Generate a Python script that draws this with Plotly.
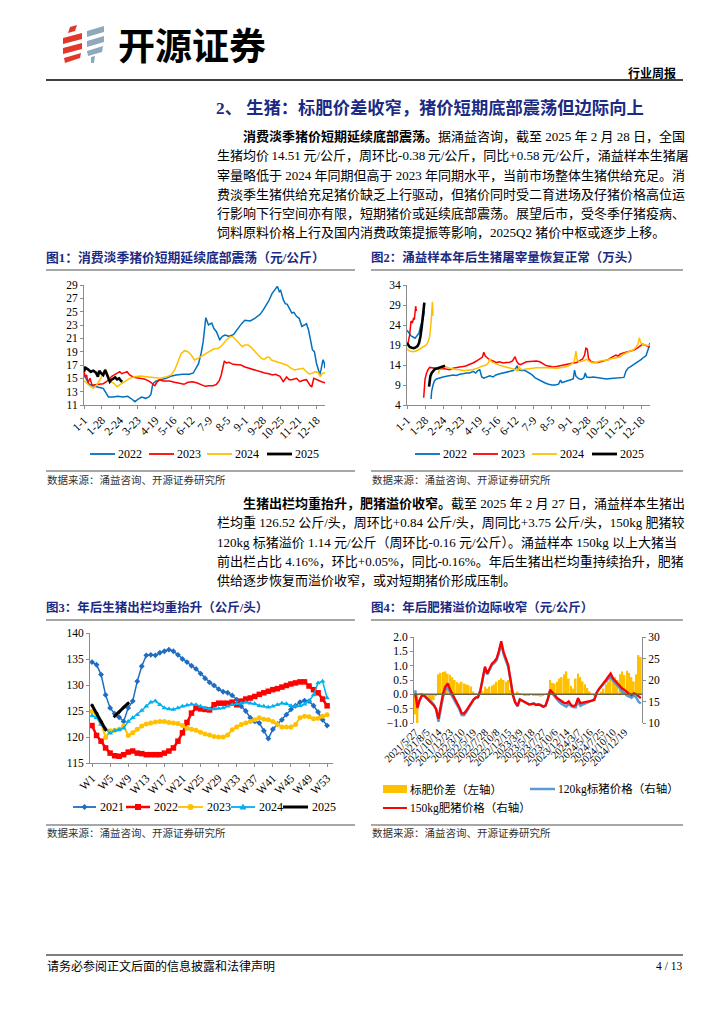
import plotly.graph_objects as go

W, H = 724, 1024


def PX(x):
    return x / W


def PY(y):
    return 1 - y / H


SERIF = "Liberation Serif, Noto Sans CJK SC"
CJK = "Noto Sans CJK SC"
NAVY = "#1B2A84"
AXC = "#8C8C8C"

# ---------------- Chart 1: national hog price (yuan/kg), (day-of-year, value) ----------------
DAY_TICKS = [1, 28, 55, 82, 109, 136, 163, 190, 217, 244, 271, 298, 325, 352]
DAY_LABELS = ["1-1", "1-28", "2-24", "3-23", "4-19", "5-16", "6-12", "7-9", "8-5",
              "9-1", "9-28", "10-25", "11-21", "12-18"]

PRICE_2022 = [(1, 15.5), (5, 14.8), (9, 14.1), (14, 13.9), (20, 13.8), (26, 13.6), (30, 13.5), (34, 12.9),
              (38, 12.2), (45, 12.2), (52, 12.3), (60, 12.2), (67, 12.3), (73, 11.9), (78, 11.5), (83, 11.9),
              (88, 12.2), (94, 12.0), (99, 12.2), (102, 12.6), (105, 14.2), (110, 14.6), (118, 14.8),
              (125, 15.0), (132, 15.3), (140, 15.5), (150, 15.6), (160, 15.6), (166, 15.8), (170, 16.4),
              (174, 17.2), (178, 18.8), (181, 20.5), (183, 22.3), (185, 24.1), (189, 23.0), (194, 23.3),
              (197, 22.5), (201, 22.0), (206, 20.8), (210, 21.3), (214, 21.5), (220, 21.3), (227, 21.6),
              (234, 22.6), (239, 23.2), (244, 23.7), (252, 23.6), (259, 24.0), (267, 24.6), (272, 25.3),
              (280, 26.6), (285, 27.7), (290, 28.5), (293, 28.8), (296, 28.0), (298, 28.2), (302, 26.8),
              (305, 26.2), (308, 26.1), (311, 25.5), (315, 24.8), (318, 24.9), (322, 24.3), (326, 24.0),
              (330, 22.8), (334, 23.0), (337, 23.2), (340, 22.3), (343, 20.8), (346, 19.3), (349, 19.0),
              (352, 17.3), (355, 16.3), (357, 15.5), (359, 16.3), (362, 17.8), (364, 17.3), (365, 16.5)]
PRICE_2023 = [(1, 16.0), (3, 15.2), (5, 15.5), (7, 14.3), (10, 15.0), (13, 14.0), (15, 14.0), (20, 14.1),
              (25, 14.2), (30, 14.2), (35, 14.5), (40, 15.0), (43, 15.3), (48, 15.6), (51, 15.8), (55, 16.0),
              (58, 15.7), (61, 15.8), (66, 16.0), (70, 15.5), (75, 15.2), (80, 15.1), (86, 15.0), (92, 14.9),
              (97, 14.7), (102, 14.4), (106, 14.0), (108, 13.9), (111, 14.4), (115, 14.8), (120, 14.6),
              (130, 14.6), (138, 14.4), (145, 14.3), (152, 14.1), (158, 14.4), (165, 14.5), (172, 14.3),
              (178, 14.0), (184, 13.8), (190, 13.9), (196, 13.9), (201, 14.1), (205, 14.6), (208, 15.4),
              (211, 16.8), (213, 17.6), (216, 17.3), (220, 17.4), (226, 17.1), (232, 17.1), (238, 17.0),
              (244, 16.7), (250, 16.5), (256, 16.3), (262, 16.2), (268, 16.0), (274, 15.8), (280, 15.7),
              (286, 15.5), (290, 15.6), (297, 15.3), (302, 14.5), (307, 15.2), (311, 14.8), (315, 14.8),
              (322, 15.0), (327, 14.5), (332, 14.7), (337, 14.8), (342, 14.0), (345, 13.7), (348, 15.0),
              (352, 14.8), (355, 14.7), (360, 14.5), (365, 14.35)]
PRICE_2024 = [(1, 14.6), (3, 14.5), (8, 14.0), (15, 13.5), (20, 14.0), (25, 14.75), (30, 15.75), (33, 16.4),
              (35, 16.0), (38, 15.25), (41, 14.5), (46, 14.25), (51, 13.75), (56, 14.1), (63, 14.5),
              (70, 15.0), (78, 15.25), (86, 15.35), (96, 15.25), (106, 15.15), (116, 15.0), (126, 15.25),
              (133, 15.5), (138, 16.25), (143, 17.5), (148, 18.75), (153, 19.15), (158, 19.0), (163, 18.5),
              (168, 17.75), (173, 18.0), (181, 18.5), (189, 19.0), (196, 19.35), (204, 19.5), (210, 20.0),
              (216, 20.75), (222, 21.25), (226, 21.25), (231, 20.75), (236, 20.25), (240, 19.75),
              (244, 20.0), (249, 20.0), (254, 19.6), (259, 19.0), (264, 18.5), (269, 18.0), (273, 17.85),
              (277, 18.15), (281, 18.15), (284, 17.75), (292, 17.5), (300, 17.25), (307, 17.0), (314, 16.5),
              (319, 16.25), (324, 16.35), (332, 16.5), (337, 16.0), (341, 15.65), (346, 15.75), (350, 16.0),
              (355, 15.85), (358, 15.25), (361, 15.75), (365, 15.85)]
PRICE_2025 = [(1, 16.0), (3, 16.6), (7, 16.35), (11, 16.0), (15, 16.15), (19, 15.85), (22, 15.25),
              (24, 16.15), (27, 15.75), (30, 15.5), (33, 16.25), (35, 15.75), (37, 15.25), (40, 14.5),
              (42, 14.75), (45, 15.0), (48, 15.15), (51, 14.85), (54, 15.0), (57, 14.6), (59, 14.5)]

# ---------------- Chart 2: sample slaughter volume (10k head) ----------------
SLAUGHTER_2022 = [(1, 22.7), (4, 22.0), (7, 21.3), (10, 21.0), (13, 20.7), (16, 21.3), (19, 22.0), (21, 23.5),
                  (23, 24.4), (25, 25.5), (27, 27.5), (28, None), (37, 5.5), (38, 7.5), (40, 9.0), (42, 10.0),
                  (45, 10.5), (50, 10.8), (55, 11.0), (60, 11.2), (65, 11.3), (70, 11.5), (75, 11.4),
                  (80, 11.7), (85, 11.8), (90, 12.0), (95, 12.0), (100, 12.4), (104, 12.0), (107, 12.6),
                  (110, 12.8), (113, 11.0), (116, 10.7), (120, 11.0), (125, 11.3), (130, 11.0), (134, 11.5),
                  (140, 11.8), (145, 12.0), (150, 12.3), (155, 12.5), (160, 12.6), (164, 13.2), (166, 13.8),
                  (168, 12.8), (172, 12.6), (178, 12.6), (183, 12.2), (188, 11.6), (193, 10.8), (198, 10.3),
                  (203, 9.8), (208, 9.5), (213, 9.2), (218, 9.0), (223, 9.0), (228, 9.2), (231, 10.2),
                  (233, 9.6), (237, 9.8), (242, 10.0), (247, 10.2), (250, 10.5), (252, 12.7), (254, 11.2),
                  (258, 10.6), (262, 10.4), (266, 10.8), (268, 12.0), (270, 11.0), (275, 10.9), (280, 11.0),
                  (287, 10.8), (294, 10.6), (300, 10.5), (306, 10.6), (312, 10.7), (318, 10.8), (323, 10.7),
                  (326, 10.9), (329, 12.5), (332, 13.2), (336, 13.6), (340, 14.0), (344, 14.4), (348, 15.0),
                  (352, 15.4), (356, 16.0), (359, 16.3), (362, 17.8), (365, 19.5)]
SLAUGHTER_2023 = [(1, 19.0), (3, 19.8), (5, 21.5), (7, 25.0), (9, 24.5), (11, 25.8), (12, 25.3), (13, 27.0),
                  (14, 28.7), (15, 27.5), (16, None), (26, 5.8), (27, 8.5), (28, 10.5), (30, 11.8), (32, 12.7),
                  (35, 13.4), (40, 13.3), (45, 13.2), (50, 13.0), (55, 13.1), (60, 12.9), (65, 12.8),
                  (70, 13.2), (75, 13.4), (80, 13.5), (85, 13.6), (90, 13.8), (95, 14.2), (100, 14.5),
                  (105, 15.0), (110, 15.5), (114, 16.0), (116, 17.2), (118, 16.3), (121, 15.8), (125, 15.3),
                  (130, 15.0), (135, 14.6), (140, 14.8), (145, 14.5), (150, 14.6), (155, 14.7), (159, 15.0),
                  (161, 15.6), (163, 16.1), (165, 15.0), (168, 14.3), (171, 14.1), (175, 14.5), (180, 14.8),
                  (185, 14.9), (190, 15.0), (195, 15.0), (200, 14.8), (205, 14.4), (210, 13.8), (215, 13.7),
                  (220, 13.5), (225, 13.6), (230, 13.8), (235, 14.0), (240, 14.2), (245, 14.4), (250, 14.5),
                  (255, 14.6), (260, 15.0), (264, 15.5), (267, 16.5), (269, 18.2), (271, 18.0), (273, 15.6),
                  (277, 14.8), (282, 14.6), (287, 14.6), (292, 14.9), (297, 15.1), (302, 15.3), (306, 15.8),
                  (310, 16.2), (314, 16.5), (317, 16.2), (320, 16.7), (325, 17.0), (330, 17.2), (335, 17.4),
                  (340, 17.7), (345, 18.1), (350, 18.6), (354, 19.2), (357, 19.0), (361, 18.7), (365, 18.5)]
SLAUGHTER_2024 = [(1, 18.0), (5, 17.5), (10, 17.3), (15, 17.5), (20, 18.0), (25, 18.5), (30, 19.0), (33, 20.0),
                  (35, 21.2), (37, 24.5), (38, 27.0), (39, 29.8), (40, 26.3), (41, None), (48, 11.8), (50, 13.0),
                  (55, 13.5), (60, 13.5), (65, 13.2), (70, 13.0), (75, 12.9), (80, 12.8), (85, 12.6),
                  (90, 12.6), (95, 12.7), (100, 12.9), (105, 13.1), (110, 13.5), (115, 13.8), (120, 14.0),
                  (123, 14.6), (125, 15.6), (127, 14.9), (130, 14.6), (135, 14.2), (140, 13.9), (145, 13.7),
                  (150, 13.5), (155, 13.3), (160, 13.1), (164, 12.8), (167, 12.5), (169, 13.6), (172, 12.8),
                  (176, 12.9), (180, 13.1), (185, 13.2), (190, 13.3), (195, 13.3), (200, 13.3), (205, 13.4),
                  (210, 13.4), (215, 13.3), (220, 13.2), (225, 13.2), (230, 13.3), (235, 13.5), (240, 13.6),
                  (245, 14.0), (250, 14.5), (252, 15.2), (254, 17.5), (256, 15.2), (260, 14.8), (265, 15.0),
                  (270, 15.4), (275, 14.8), (280, 14.5), (285, 14.7), (290, 15.0), (295, 15.1), (300, 15.2),
                  (305, 15.5), (310, 15.7), (315, 15.8), (320, 16.0), (325, 16.7), (330, 17.1), (335, 17.4),
                  (340, 17.8), (344, 18.4), (347, 19.3), (349, 20.8), (351, 19.6), (354, 19.2), (358, 19.0),
                  (362, 18.8), (365, 19.0)]
SLAUGHTER_2025 = [(1, 19.5), (3, 18.8), (5, 18.5), (8, 18.3), (11, 18.2), (14, 18.4), (17, 18.8), (19, 19.5),
                  (21, 21.0), (23, 23.5), (25, 26.5), (26, 28.5), (27, 29.6), (28, None), (34, 8.6), (35, 10.3),
                  (36, 11.2), (38, 12.0), (40, 12.5), (43, 13.0), (47, 13.2), (51, 13.4), (55, 13.7), (58, 13.8)]

# ---------------- Chart 3: average slaughter weight (kg/head), weeks W1..W53 ----------------
WEEKS = list(range(1, 54))
WEEK_TICKS = [1, 5, 9, 13, 17, 21, 25, 29, 33, 37, 41, 45, 49, 53]
WEEK_LABELS = ["W1", "W5", "W9", "W13", "W17", "W21", "W25", "W29", "W33", "W37", "W41", "W45", "W49", "W53"]
WEIGHT_2021 = [134.4, 133.9, 132.0, 128.1, 125.6, 124.5, 123.8, 123.0, 125.6, 126.9,
               130.7, 133.6, 135.7, 135.8, 135.7, 136.2, 136.5, 136.8, 136.5, 135.8,
               135.0, 134.4, 133.7, 133.1, 132.2, 131.3, 130.5, 129.9, 129.2, 128.7,
               128.5, 128.0, 127.2, 125.9, 125.0, 123.7, 123.0, 122.7, 121.2, 119.7,
               121.5, 122.5, 123.3, 124.3, 125.3, 126.0, 126.7, 127.0, 126.9, 126.0,
               124.8, 123.3, 122.2]
WEIGHT_2022 = [122.2, 120.3, 119.2, 117.9, 116.9, 116.4, 116.3, 116.6, 117.1, 117.3,
               116.9, 116.8, 116.6, 116.6, 116.6, 116.6, 116.9, 117.3, 117.9, 119.2,
               120.8, 122.8, 124.6, 125.6, 125.4, 125.3, 125.2, 126.2, 126.5, 126.5,
               126.5, 126.7, 126.2, 126.9, 127.3, 127.5, 127.8, 128.2, 128.5, 128.8,
               129.1, 129.3, 129.6, 129.9, 130.2, 130.4, 130.6, 130.6, 129.8, 129.1,
               128.5, 127.3, 126.0]
WEIGHT_2023 = [124.9, 124.3, 122.7, 119.9, 121.2, 121.3, 121.5, 122.1, 120.3, 120.8,
               121.5, 122.1, 122.5, 122.7, 122.9, 123.0, 123.0, 122.8, 122.7, 122.6,
               122.2, 121.7, 121.5, 121.3, 120.9, 120.6, 120.4, 120.1, 120.0, 120.0,
               120.4, 121.4, 121.9, 122.4, 122.7, 123.0, 123.3, 123.7, 123.4, 123.3,
               123.0, 122.4, 121.9, 121.9, 121.9, 122.4, 123.7, 124.0, 123.9, 123.5,
               123.6, 124.0, 124.3]
WEIGHT_2024 = [124.1, 123.7, 122.4, 121.6, 120.7, 121.2, 121.4, 121.7, 123.0, 123.7,
               124.3, 125.1, 125.9, 126.7, 126.9, 126.2, 125.6, 125.4, 125.3, 125.6,
               125.9, 126.1, 126.3, 126.2, 125.9, 125.6, 125.4, 125.4, 125.5, 125.6,
               125.9, 126.2, 126.4, 126.5, 126.7, 126.5, 126.4, 126.0, 125.9, 125.7,
               125.9, 126.2, 126.5, 126.4, 126.0, 125.9, 126.0, 126.3, 126.9, 128.1,
               130.4, 130.7, 127.5]
WEIGHT_2025 = [126.1, 124.6, 123.0, 121.4, None, 124.0, 124.8, 125.7, 126.5]

# ---------------- Chart 4: fat-hog premium, weekly since 2021/5/27 (every second week) ----------------
DATE_LABELS = ["2021/5/27", "2021/8/5", "2021/10/14", "2021/12/23", "2022/3/10", "2022/5/19",
               "2022/7/28", "2022/10/8", "2022/12/15", "2023/3/9", "2023/5/18", "2023/7/27",
               "2023/10/6", "2023/12/14", "2024/3/7", "2024/5/16", "2024/7/25", "2024/10/10",
               "2024/12/19"]
LABEL_WEEK = [0, 10, 20, 30, 40, 50, 60, 70, 80, 90, 100, 110, 120, 130, 140, 150, 160, 170, 180]
WEEK_IDX = list(range(0, 195, 2))
SPREAD = [-0.7, -1.0, 0.05, 0.05, 0.0, -0.15, -0.25, -0.3, -0.2, -0.05,
          0.7, 0.75, 0.78, 0.8, 0.72, 0.68, 0.6, 0.5, 0.43, 0.38,
          0.44, 0.38, 0.35, 0.32, 0.27, 0.1, 0.03, -0.02, 0.03, 0.12,
          0.27, 0.2, 0.27, 0.3, 0.35, 0.44, 0.5, 0.56, 0.5, 0.44,
          0.5, 0.15, 0.0, 0.05, 0.1, 0.03, -0.02, -0.03, -0.06, -0.05,
          -0.02, -0.05, -0.06, -0.03, -0.08, -0.05, -0.02, 0.05, 0.5, 0.4,
          0.38, 0.44, 0.55, 0.6, 0.7, 0.8, 0.55, 0.3, 0.2, 0.55,
          0.73, 0.6, 0.45, 0.35, 0.22, 0.1, 0.0, -0.06, -0.05, 0.0,
          0.1, 0.2, 0.35, 0.45, 0.65, 0.62, 0.6, 0.5, 0.7, 0.8,
          0.67, 0.82, 0.75, 0.6, 0.45, 0.7, 1.37, 1.3]
PRICE_150KG = [16.9, 13.5, 15.4, 16.5, 16.3, 15.8, 15.2, 14.6, 14.1, 13.2,
               11.0, 14.0, 16.9, 18.5, 19.2, 17.8, 16.8, 15.8, 14.6, 13.6,
               12.3, 12.2, 12.9, 13.8, 14.6, 15.4, 15.9, 16.0, 17.5, 20.5,
               23.1, 21.5, 22.5, 23.8, 24.3, 25.0, 26.8, 29.0, 26.5, 25.0,
               23.5, 20.0, 16.5, 14.8, 14.0, 15.5, 15.2, 15.0, 14.6, 14.3,
               14.4, 14.5, 14.2, 14.3, 14.1, 13.8, 14.0, 15.5, 17.7, 17.2,
               16.5, 15.8, 15.4, 15.0, 14.7, 14.6, 15.0, 14.2, 13.9, 14.2,
               15.8, 14.6, 14.7, 14.8, 14.9, 15.0, 15.2, 15.4, 17.0, 17.9,
               18.5, 19.3, 20.0, 20.8, 21.5, 20.4, 19.8, 19.3, 18.8, 18.0,
               17.7, 17.2, 16.8, 16.5, 16.9, 16.7, 16.3, 15.8]
PRICE_120KG = [17.6, 14.5, 15.35, 16.45, 16.3, 15.95, 15.45, 14.9, 14.3, 13.25,
               10.3, 13.25, 16.1, 17.7, 18.5, 17.1, 16.2, 15.3, 14.15, 13.2,
               11.85, 11.8, 12.55, 13.5, 14.35, 15.3, 15.85, 16.0, 17.45, 20.4,
               22.8, 21.3, 22.25, 23.5, 23.95, 24.55, 26.3, 28.45, 26.0, 24.55,
               23.0, 19.85, 16.5, 14.75, 13.9, 15.45, 15.2, 15.0, 14.65, 14.35,
               14.4, 14.55, 14.25, 14.35, 14.2, 13.85, 14.0, 15.45, 17.2, 16.8,
               16.1, 15.35, 14.85, 14.4, 14.0, 13.8, 14.45, 13.9, 13.7, 13.65,
               15.05, 14.0, 14.25, 14.45, 14.7, 14.9, 15.2, 15.45, 17.05, 17.9,
               18.4, 19.1, 19.65, 20.35, 20.85, 19.8, 19.2, 18.8, 18.1, 17.2,
               17.0, 16.4, 16.05, 15.9, 16.45, 16.0, 14.95, 14.5]

YEAR_COLORS = {"2021": "#1F6DC2", "2022": "#0070C0", "2023": "#FF0000", "2024": "#FFC000", "2025": "#000000"}
C3_COLORS = {"2021": "#1F6DC2", "2022": "#FF0000", "2023": "#FFC000", "2024": "#00B0F0", "2025": "#000000"}

fig = go.Figure()


def xs(pairs):
    return [p[0] for p in pairs]


def ys(pairs):
    return [p[1] for p in pairs]


# Chart 1 traces
for name, pairs in [("2022", PRICE_2022), ("2023", PRICE_2023), ("2024", PRICE_2024), ("2025", PRICE_2025)]:
    fig.add_trace(go.Scatter(x=xs(pairs), y=ys(pairs), mode="lines", name=name,
                             line=dict(color=YEAR_COLORS[name], width=2.6 if name == "2025" else 1.5),
                             xaxis="x", yaxis="y", showlegend=False, hoverinfo="skip"))
# Chart 2 traces
for name, pairs in [("2022", SLAUGHTER_2022), ("2023", SLAUGHTER_2023), ("2024", SLAUGHTER_2024),
                    ("2025", SLAUGHTER_2025)]:
    fig.add_trace(go.Scatter(x=xs(pairs), y=ys(pairs), mode="lines", name=name, connectgaps=False,
                             line=dict(color=YEAR_COLORS[name], width=2.6 if name == "2025" else 1.5),
                             xaxis="x2", yaxis="y2", showlegend=False, hoverinfo="skip"))
# Chart 3 traces
C3_STYLE = {"2021": ("diamond", 4.5, 1.5), "2022": ("square", 5.5, 2.5), "2023": ("circle", 5, 2),
            "2024": ("triangle-up", 5, 1.5), "2025": ("diamond", 3, 3)}
for name, vals in [("2021", WEIGHT_2021), ("2022", WEIGHT_2022), ("2023", WEIGHT_2023),
                   ("2024", WEIGHT_2024), ("2025", WEIGHT_2025)]:
    sym, msize, lw = C3_STYLE[name]
    fig.add_trace(go.Scatter(x=WEEKS[:len(vals)], y=vals, mode="lines+markers", name=name, connectgaps=False,
                             line=dict(color=C3_COLORS[name], width=lw),
                             marker=dict(symbol=sym, size=msize, color=C3_COLORS[name]),
                             xaxis="x3", yaxis="y3", showlegend=False, hoverinfo="skip"))
# Chart 4 traces
fig.add_trace(go.Bar(x=WEEK_IDX, y=SPREAD, width=1.5, name="标肥价差（左轴）",
                     marker=dict(color="#FFC000", line=dict(width=0)),
                     xaxis="x4", yaxis="y4", showlegend=False, hoverinfo="skip"))
fig.add_trace(go.Scatter(x=WEEK_IDX, y=PRICE_120KG, mode="lines", name="120kg标猪价格（右轴）",
                         line=dict(color="#5B9BD5", width=2.5),
                         xaxis="x4", yaxis="y5", showlegend=False, hoverinfo="skip"))
fig.add_trace(go.Scatter(x=WEEK_IDX, y=PRICE_150KG, mode="lines", name="150kg肥猪价格（右轴）",
                         line=dict(color="#FF0000", width=2.3),
                         xaxis="x4", yaxis="y5", showlegend=False, hoverinfo="skip"))

TICKFONT = dict(family=SERIF, size=11.5, color="black")


def yax(top, bot, rng, dtick, anchor, **kw):
    d = dict(domain=[PY(bot), PY(top)], range=rng, dtick=dtick, tick0=rng[0], anchor=anchor,
             showline=True, linecolor=AXC, linewidth=1, ticks="outside", ticklen=3, tickcolor=AXC,
             showgrid=False, zeroline=False, tickfont=TICKFONT, automargin=False, fixedrange=True)
    d.update(kw)
    return d


def xax(left, right, rng, tickvals, ticktext, anchor, **kw):
    d = dict(domain=[PX(left), PX(right)], range=rng, tickmode="array", tickvals=tickvals, ticktext=ticktext,
             tickangle=-45, anchor=anchor, showline=True, linecolor=AXC, linewidth=1, ticks="outside",
             ticklen=3, tickcolor=AXC, showgrid=False, zeroline=False, tickfont=TICKFONT,
             automargin=False, fixedrange=True)
    d.update(kw)
    return d


layout = dict(
    width=W, height=H, autosize=False, margin=dict(l=0, r=0, t=0, b=0, pad=0),
    paper_bgcolor="white", plot_bgcolor="rgba(0,0,0,0)", showlegend=False,
    xaxis=xax(84, 325, [1, 365], DAY_TICKS, DAY_LABELS, "y"),
    yaxis=yax(285, 405, [11, 29], 2, "x"),
    xaxis2=xax(407, 650, [1, 365], DAY_TICKS, DAY_LABELS, "y2"),
    yaxis2=yax(285, 405, [4, 34], 5, "x2"),
    xaxis3=xax(90, 333, [0.55, 54.3], WEEK_TICKS, WEEK_LABELS, "y3"),
    yaxis3=yax(633, 763, [115, 140], 5, "x3"),
    xaxis4=xax(414, 642, [-1, 195], LABEL_WEEK, DATE_LABELS, "y4", showline=False, ticks="",
               tickfont=dict(family=SERIF, size=10.5, color="black")),
    yaxis4=yax(637, 723, [-1, 2], 0.5, "x4", tickformat=".1f"),
    yaxis5=dict(overlaying="y4", side="right", anchor="x4", range=[10, 30], dtick=5, tick0=10,
                showline=True, linecolor=AXC, linewidth=1, ticks="outside", ticklen=3, tickcolor=AXC,
                showgrid=False, zeroline=False, tickfont=TICKFONT, automargin=False, fixedrange=True),
)

shapes = []
annotations = []


def hline(x0, x1, y, color, width):
    shapes.append(dict(type="line", xref="paper", yref="paper", x0=PX(x0), x1=PX(x1), y0=PY(y), y1=PY(y),
                       line=dict(color=color, width=width), layer="above"))


def poly(points, color):
    path = "M " + " L ".join(f"{PX(a):.5f},{PY(b):.5f}" for a, b in points) + " Z"
    shapes.append(dict(type="path", xref="paper", yref="paper", path=path, fillcolor=color,
                       line=dict(width=0), layer="above"))


def rect(x0, y0, x1, y1, color):
    shapes.append(dict(type="rect", xref="paper", yref="paper", x0=PX(x0), x1=PX(x1), y0=PY(y1), y1=PY(y0),
                       fillcolor=color, line=dict(width=0), layer="above"))


def circ(cx, cy, r, color):
    shapes.append(dict(type="circle", xref="paper", yref="paper", x0=PX(cx - r), x1=PX(cx + r),
                       y0=PY(cy + r), y1=PY(cy - r), fillcolor=color, line=dict(width=0), layer="above"))


def txt(x, y, s, size=13, color="black", anchor="left", family=SERIF):
    annotations.append(dict(x=PX(x), y=PY(y), xref="paper", yref="paper", text=s, showarrow=False,
                            xanchor=anchor, yanchor="middle", align="left", borderpad=0,
                            font=dict(size=size, color=color, family=family)))


# zero line of chart 4
shapes.append(dict(type="line", xref="x4 domain", yref="y4", x0=0, x1=1, y0=0, y1=0,
                   line=dict(color="#6E6446", width=1.5), layer="above"))

# ---- header ----
RED = "#E0392B"
BLUEGRAY = "#8EA8BC"
poly([(70, 27), (77, 25), (75, 31), (68, 33)], RED)
poly([(63, 38), (82, 33), (82, 39), (63, 44)], RED)
poly([(63, 48), (82, 43), (82, 49), (63, 54)], RED)
poly([(64, 58), (81, 53), (80, 58), (65, 63)], RED)
poly([(87, 31), (104, 26), (104, 32), (87, 37)], BLUEGRAY)
poly([(87, 41), (104, 36), (104, 42), (87, 47)], BLUEGRAY)
poly([(87, 51), (103, 46), (102, 52), (88, 56)], BLUEGRAY)
poly([(91, 57), (95, 56), (94, 63), (91, 63)], BLUEGRAY)
txt(117, 44, "<b>开源证券</b>", size=37, family=CJK)
txt(677, 72, "<b>行业周报</b>", size=12, anchor="right", family=CJK)
hline(46, 683, 80, "black", 1.5)

# ---- section title & paragraph 1 ----
txt(215, 108, "<b>2、 生猪：标肥价差收窄，猪价短期底部震荡但边际向上</b>", size=17.3, color=NAVY)
P1 = ["<b>消费淡季猪价短期延续底部震荡。</b>据涌益咨询，截至 2025 年 2 月 28 日，全国",
      "生猪均价\u200914.51\u2009元/公斤，周环比-0.38\u2009元/公斤，同比+0.58\u2009元/公斤，涌益样本生猪屠",
      "宰量略低于 2024 年同期但高于 2023 年同期水平，当前市场整体生猪供给充足。消",
      "费淡季生猪供给充足猪价缺乏上行驱动，但猪价同时受二育进场及仔猪价格高位运",
      "行影响下行空间亦有限，短期猪价或延续底部震荡。展望后市，受冬季仔猪疫病、",
      "饲料原料价格上行及国内消费政策提振等影响，2025Q2 猪价中枢或逐步上移。"]
P1_Y = [136, 155.5, 175, 194, 213, 232]
for i, (line, y) in enumerate(zip(P1, P1_Y)):
    txt(242 if i == 0 else 216, y, line, size=13)

# ---- figure titles ----
txt(45, 257, "<b>图1：消费淡季猪价短期延续底部震荡（元/公斤）</b>", size=12.8, color=NAVY)
txt(370, 257, "<b>图2：涌益样本年后生猪屠宰量恢复正常（万头）</b>", size=12.5, color=NAVY)
hline(46, 355, 270, "#8A8A8A", 1.5)
hline(371, 683, 270, "#8A8A8A", 1.5)

# ---- legends chart 1 & 2 ----
for (x0, x1, name) in [(90, 115, "2022"), (149, 174, "2023"), (207, 232, "2024"), (267, 292, "2025")]:
    hline(x0, x1, 454, YEAR_COLORS[name], 2.8 if name == "2025" else 1.8)
    txt(x1 + 2, 454, name, size=12)
for (x0, x1, name) in [(415, 440, "2022"), (473, 498, "2023"), (532, 557, "2024"), (592, 617, "2025")]:
    hline(x0, x1, 454, YEAR_COLORS[name], 2.8 if name == "2025" else 1.8)
    txt(x1 + 2, 454, name, size=12)

SRC = "数据来源：涌益咨询、开源证券研究所"
hline(46, 355, 471, "#8A8A8A", 1.5)
hline(371, 683, 471, "#8A8A8A", 1.5)
txt(46, 480, SRC, size=10.5, color="#333333")
txt(371, 480, SRC, size=10.5, color="#333333")

# ---- paragraph 2 ----
P2 = ["<b>生猪出栏均重抬升，肥猪溢价收窄。</b>截至 2025 年 2 月 27 日，涌益样本生猪出",
      "栏均重 126.52 公斤/头，周环比+0.84 公斤/头，周同比+3.75 公斤/头，150kg 肥猪较",
      "120kg 标猪溢价 1.14 元/公斤（周环比-0.16 元/公斤）。涌益样本 150kg 以上大猪当",
      "前出栏占比 4.16%，环比+0.05%，同比-0.16%。年后生猪出栏均重持续抬升，肥猪",
      "供给逐步恢复而溢价收窄，或对短期猪价形成压制。"]
P2_Y = [503, 522, 542, 561, 580]
for i, (line, y) in enumerate(zip(P2, P2_Y)):
    txt(242 if i == 0 else 216, y, line, size=13)

txt(45, 607, "<b>图3：年后生猪出栏均重抬升（公斤/头）</b>", size=12.5, color=NAVY)
txt(370, 607, "<b>图4：年后肥猪溢价边际收窄（元/公斤）</b>", size=12.5, color=NAVY)
hline(46, 355, 620, "#8A8A8A", 1.5)
hline(371, 683, 620, "#8A8A8A", 1.5)

# ---- legend chart 3 ----
for (x0, x1, name) in [(73, 96, "2021"), (126, 150, "2022"), (178, 203, "2023"), (231, 255, "2024"),
                       (283, 308, "2025")]:
    c = C3_COLORS[name]
    hline(x0, x1, 807, c, 3 if name == "2025" else (2.5 if name == "2022" else 1.8))
    cx = (x0 + x1) / 2
    if name == "2021":
        poly([(cx, 804), (cx + 3, 807), (cx, 810), (cx - 3, 807)], c)
    elif name == "2022":
        rect(cx - 3, 804, cx + 3, 810, c)
    elif name == "2023":
        circ(cx, 807, 3, c)
    elif name == "2024":
        poly([(cx, 803.5), (cx + 3.5, 809.5), (cx - 3.5, 809.5)], c)
    txt(x1 + 3, 807, name, size=12)

# ---- legend chart 4 ----
rect(383, 785, 407, 793, "#FFC000")
txt(409, 789, "标肥价差（左轴）", size=11.5)
hline(530, 555, 789, "#5B9BD5", 2.5)
txt(557, 789, "120kg标猪价格（右轴）", size=11.5)
hline(383, 407, 808, "#FF0000", 2)
txt(409, 808, "150kg肥猪价格（右轴）", size=11.5)

hline(46, 355, 825, "#8A8A8A", 1.5)
hline(371, 683, 825, "#8A8A8A", 1.5)
txt(46, 833, SRC, size=10.5, color="#333333")
txt(371, 833, SRC, size=10.5, color="#333333")

# ---- footer ----
hline(46, 683, 955, "#7F7F7F", 2)
txt(46, 966, "请务必参阅正文后面的信息披露和法律声明", size=12)
txt(683, 966, "4 / 13", size=11.5, anchor="right")

layout["shapes"] = shapes
layout["annotations"] = annotations
fig.update_layout(**layout)

fig.write_html("out.html", config={"displayModeBar": False},
               post_script="document.body.style.margin='0';document.body.style.overflow='hidden';")
